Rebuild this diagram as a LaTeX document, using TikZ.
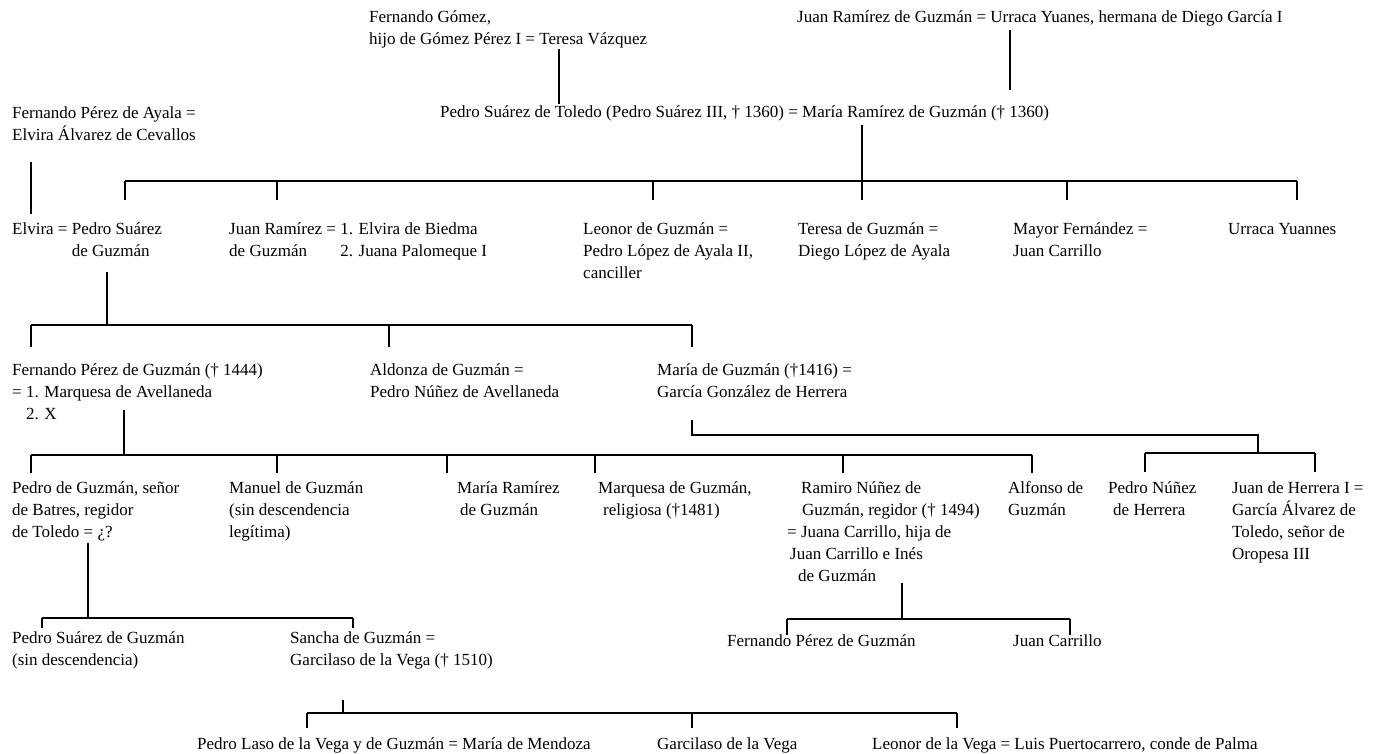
\documentclass[tikz,border=0pt]{standalone}
\usepackage{fontspec}
\setmainfont{Liberation Serif}
\begin{document}
\begin{tikzpicture}[x=1pt,y=-1pt,
  person/.style={anchor=base west, align=left, inner sep=0pt, font=\fontsize{17}{22}\selectfont},
  link/.style={line width=1.1pt}]
\useasboundingbox (0,0) rectangle (1388,754);
% ---------- people (node placed at the baseline of its last line) ----------
\node[person] (A) at (369,45) {Fernando Gómez,\\hijo de Gómez Pérez I = Teresa Vázquez};
\node[person] (B) at (797,23) {Juan Ramírez de Guzmán = Urraca Yuanes, hermana de Diego García I};
\node[person] (C) at (12,141) {Fernando Pérez de Ayala =\\Elvira Álvarez de Cevallos};
\node[person] (D) at (440,118) {Pedro Suárez de Toledo (Pedro Suárez III, † 1360) = María Ramírez de Guzmán († 1360)};
\node[person] (E) at (12,256) {Elvira = Pedro Suárez\\\hphantom{Elvira = }de Guzmán};
\node[person] (F) at (229,256) {Juan Ramírez = 1. Elvira de Biedma\\\rlap{de Guzmán}\hphantom{Juan Ramírez = }2. Juana Palomeque I};
\node[person] (G) at (583,278) {Leonor de Guzmán =\\Pedro López de Ayala II,\\canciller};
\node[person] (H) at (798,256) {Teresa de Guzmán =\\Diego López de Ayala};
\node[person] (I) at (1013,256) {Mayor Fernández =\\Juan Carrillo};
\node[person] (J) at (1228,234) {Urraca Yuannes};
\node[person] (K) at (12,419) {Fernando Pérez de Guzmán († 1444)\\= 1. Marquesa de Avellaneda\\\hphantom{= }2. X};
\node[person] (L) at (370,397) {Aldonza de Guzmán =\\Pedro Núñez de Avellaneda};
\node[person] (M) at (657,397) {María de Guzmán (†1416) =\\García González de Herrera};
\node[person] (N) at (12,537) {Pedro de Guzmán, señor\\de Batres, regidor\\de Toledo = ¿?};
\node[person] (O) at (229,537) {Manuel de Guzmán\\(sin descendencia\\legítima)};
\node[person] (P) at (457,515) {María Ramírez\\\hspace{3pt}de Guzmán};
\node[person] (Q) at (598,515) {Marquesa de Guzmán,\\\hspace{5pt}religiosa (†1481)};
\node[person] (R) at (787,581) {\hspace{14pt}Ramiro Núñez de\\\hspace{15pt}Guzmán, regidor († 1494)\\= Juana Carrillo, hija de\\\hspace{3pt}Juan Carrillo e Inés\\\hspace{11pt}de Guzmán};
\node[person] (Alf) at (1008,515) {Alfonso de\\Guzmán};
\node[person] (Z1) at (1108,515) {Pedro Núñez\\\hspace{5pt}de Herrera};
\node[person] (Z2) at (1232,559) {Juan de Herrera I =\\García Álvarez de\\Toledo, señor de\\Oropesa III};
\node[person] (S) at (12,665) {Pedro Suárez de Guzmán\\(sin descendencia)};
\node[person] (T) at (290,665) {Sancha de Guzmán =\\Garcilaso de la Vega († 1510)};
\node[person] (U) at (727,646) {Fernando Pérez de Guzmán};
\node[person] (V) at (1013,646) {Juan Carrillo};
\node[person] (W) at (197,749) {Pedro Laso de la Vega y de Guzmán = María de Mendoza};
\node[person] (X) at (657,749) {Garcilaso de la Vega};
\node[person] (Y) at (872,749) {Leonor de la Vega = Luis Puertocarrero, conde de Palma};
% ---------- connector points ----------
\coordinate (uA) at (559,49);  \coordinate (tD) at (559,104);
\coordinate (uB) at (1010,30); \coordinate (tD2) at (1010,90);
\coordinate (uC) at (31,162);  \coordinate (tE) at (31,214);
% bar 1
\coordinate (uD) at (862,125);
\coordinate (b1L) at (125,181); \coordinate (b1R) at (1297,181);
\coordinate (dE) at (125,200); \coordinate (dF) at (277,200); \coordinate (dG) at (653,200);
\coordinate (dH) at (862,200); \coordinate (dI) at (1067,200); \coordinate (dJ) at (1297,200);
% bar 2
\coordinate (uE) at (107,272);
\coordinate (b2L) at (31,325); \coordinate (b2R) at (692,325);
\coordinate (dK) at (31,347); \coordinate (dL) at (389,347); \coordinate (dM) at (692,347);
% bar 3
\coordinate (uK) at (124,410);
\coordinate (b3L) at (31,455); \coordinate (b3R) at (1032,455);
\coordinate (dN) at (31,473); \coordinate (dO) at (277,473); \coordinate (dP) at (447,473);
\coordinate (dQ) at (595,473); \coordinate (dR) at (843,473); \coordinate (dAlf) at (1032,473);
% Herrera
\coordinate (uM) at (692,420); \coordinate (hc) at (1258,435);
\coordinate (b4L) at (1145,453); \coordinate (b4R) at (1315,453);
\coordinate (dZ1) at (1145,472); \coordinate (dZ2) at (1315,472);
% bar 5
\coordinate (uN) at (88,543);
\coordinate (b5L) at (42,618); \coordinate (b5R) at (353,618);
\coordinate (dS) at (42,628); \coordinate (dT) at (353,628);
% bar 6
\coordinate (uR) at (902,583);
\coordinate (b6L) at (787,619); \coordinate (b6R) at (1070,619);
\coordinate (dU) at (787,635); \coordinate (dV) at (1070,635);
% bar 7
\coordinate (uT) at (343,700);
\coordinate (b7L) at (307,713); \coordinate (b7R) at (957,713);
\coordinate (dW) at (307,728); \coordinate (dX) at (692,728); \coordinate (dY) at (957,728);
% ---------- connectors ----------
\draw[link] (uA) -- (tD);
\draw[link] (uB) -- (tD2);
\draw[link] (uC) -- (tE);
\draw[link] (uD) -- (uD |- b1L);
\draw[link] (b1L) -- (b1R);
\foreach \d in {dE,dF,dG,dH,dI,dJ} \draw[link] (\d |- b1L) -- (\d);
\draw[link] (uE) -- (uE |- b2L);
\draw[link] (b2L) -- (b2R);
\foreach \d in {dK,dL,dM} \draw[link] (\d |- b2L) -- (\d);
\draw[link] (uK) -- (uK |- b3L);
\draw[link] (b3L) -- (b3R);
\foreach \d in {dN,dO,dP,dQ,dR,dAlf} \draw[link] (\d |- b3L) -- (\d);
\draw[link] (uM) |- (hc) -- (hc |- b4L);
\draw[link] (b4L) -- (b4R);
\foreach \d in {dZ1,dZ2} \draw[link] (\d |- b4L) -- (\d);
\draw[link] (uN) -- (uN |- b5L);
\draw[link] (b5L) -- (b5R);
\foreach \d in {dS,dT} \draw[link] (\d |- b5L) -- (\d);
\draw[link] (uR) -- (uR |- b6L);
\draw[link] (b6L) -- (b6R);
\foreach \d in {dU,dV} \draw[link] (\d |- b6L) -- (\d);
\draw[link] (uT) -- (uT |- b7L);
\draw[link] (b7L) -- (b7R);
\foreach \d in {dW,dX,dY} \draw[link] (\d |- b7L) -- (\d);
\end{tikzpicture}
\end{document}
